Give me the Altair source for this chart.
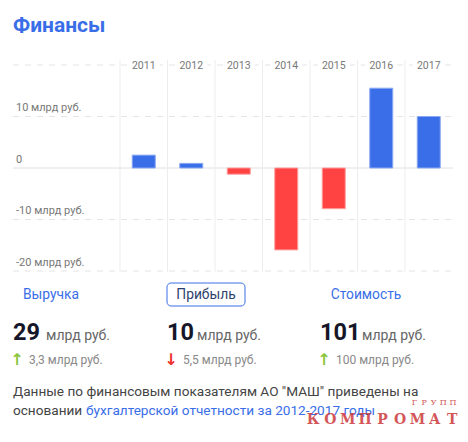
import altair as alt
import pandas as pd

# ---- data ----
years = ["2011", "2012", "2013", "2014", "2015", "2016", "2017"]
profit = [2.5, 0.9, -1.2, -15.9, -7.9, 15.5, 10.0]
grid_values = [20, 10, -10, -20]
y_label_values = [10, 0, -10, -20]
y_labels = ["10 млрд руб.", "0", "-10 млрд руб.", "-20 млрд руб."]
tabs = ["Выручка", "Прибыль", "Стоимость"]
totals = ["29", "10", "101"]
changes = ["3,3 млрд руб.", "5,5 млрд руб.", "100 млрд руб."]
directions = ["up", "down", "up"]
title_text = "Финансы"
note1 = 'Данные по финансовым показателям АО "МАШ" приведены на'
note2a = "основании"
note2b = "бухгалтерской отчетности за 2012-2017 годы"
wm_main = "КОМПРОМАТ"
wm_small = "ГРУПП"

FONT = "Roboto"
BLUE = "#3a6ee8"
RED = "#ff4242"

bars = pd.DataFrame({"year": years, "v": profit,
                     "sign": ["pos" if p >= 0 else "neg" for p in profit]})
grid = pd.DataFrame({"g": grid_values})
zero = pd.DataFrame({"g": [0]})
ylab = pd.DataFrame({"g": y_label_values, "t": y_labels})
yr = pd.DataFrame({"year": years})

xs = alt.Scale(domain=years, range=[120, 452.5], paddingInner=0, paddingOuter=0)
ys = alt.Scale(domain=[-20, 20], range=[271, 65])

gridlines = alt.Chart(grid).mark_rule(color="#e4e4e4", strokeDash=[6, 6], strokeWidth=1).encode(
    y=alt.Y("g:Q", scale=ys, axis=None), x=alt.value(13), x2=alt.value(453))
zeroline = alt.Chart(zero).mark_rule(color="#e0e0e0", strokeWidth=1).encode(
    y=alt.Y("g:Q", scale=ys, axis=None), x=alt.value(13), x2=alt.value(453))
vlines = alt.Chart(yr).mark_rule(color="#ededed", strokeWidth=1).encode(
    x=alt.X("year:N", scale=xs, axis=None, bandPosition=0), y=alt.value(60), y2=alt.value(272))
label_bg = alt.Chart(yr).mark_bar(width=32, color="white").encode(
    x=alt.X("year:N", scale=xs, axis=None), y=alt.value(59), y2=alt.value(72))
year_text = alt.Chart(yr).mark_text(font=FONT, fontSize=10.5, color="#777777", baseline="middle").encode(
    x=alt.X("year:N", scale=xs, axis=None), y=alt.value(66), text="year:N")
bar_layer = alt.Chart(bars).mark_bar(width=23, strokeWidth=1).encode(
    x=alt.X("year:N", scale=xs, axis=None),
    y=alt.Y("v:Q", scale=ys, axis=None), y2=alt.datum(0),
    fill=alt.Fill("sign:N", scale=alt.Scale(domain=["pos", "neg"], range=[BLUE, RED]), legend=None),
    stroke=alt.Stroke("sign:N", scale=alt.Scale(domain=["pos", "neg"], range=["#8aa8f2", "#ff9c9c"]), legend=None),
)
ylabel_text = alt.Chart(ylab).mark_text(font=FONT, fontSize=11, color="#777777", align="left",
                                         baseline="middle", dy=-8.5).encode(
    x=alt.value(16), y=alt.Y("g:Q", scale=ys, axis=None), text="t:N")


def txt(t, x, y, size, color, weight="normal", align="left", font=FONT, baseline="middle", opacity=1):
    return alt.Chart(pd.DataFrame({"t": [t]})).mark_text(
        font=font, fontSize=size, color=color, fontWeight=weight, align=align,
        baseline=baseline, opacity=opacity).encode(x=alt.value(x), y=alt.value(y), text="t:N")


layers = [gridlines, zeroline, vlines, label_bg, year_text, bar_layer, ylabel_text]

# title
layers.append(txt(title_text, 13, 32, 21, BLUE, weight="bold", baseline="alphabetic"))

# tab box around the selected tab
box = alt.Chart(pd.DataFrame({"t": [1]})).mark_rect(
    fill="white", stroke=BLUE, strokeWidth=1, cornerRadius=4).encode(
    x=alt.value(167), x2=alt.value(245), y=alt.value(283), y2=alt.value(306))
layers.append(box)

tab_x = [23, 206, 366]
tab_align = ["left", "center", "center"]
tab_color = [BLUE, "#2d3f6e", BLUE]
col_x = [13, 167, 320]
num_w = [33, 30, 42]
for i in range(3):
    layers.append(txt(tabs[i], tab_x[i], 295, 13.8, tab_color[i], align=tab_align[i]))
    layers.append(txt(totals[i], col_x[i], 340, 23.5, "#161629", weight="bold", baseline="alphabetic"))
    layers.append(txt("млрд руб.", col_x[i] + num_w[i], 340, 14, "#666666", baseline="alphabetic"))
    arrow = "↑" if directions[i] == "up" else "↓"
    acol = "#8cc63f" if directions[i] == "up" else "#f0302a"
    layers.append(txt(arrow, col_x[i] + 4, 360, 16, acol, weight="bold", align="center", font="DejaVu Sans"))
    layers.append(txt(changes[i], col_x[i] + 16, 360, 12, "#888888"))

layers.append(txt(note1, 13, 392, 13.6, "#444444"))
layers.append(txt(note2a, 13, 411, 13.6, "#444444"))
layers.append(txt(note2b, 86, 411, 13.6, BLUE))

# watermark, letter-spaced
for i, ch in enumerate(wm_main):
    layers.append(txt(ch, 313 + i * 17.4, 420, 14, "#cc3a3c", align="center",
                      font="DejaVu Serif", weight="bold", opacity=0.85))
for i, ch in enumerate(wm_small):
    layers.append(txt(ch, 414.5 + i * 9.6, 402.5, 8, "#cc3a3c", align="center",
                      font="DejaVu Serif", opacity=0.85))

chart = alt.layer(*layers).properties(
    width=468, height=442, autosize=alt.AutoSizeParams(type="none"), padding=0,
    background="white",
).configure_view(stroke=None)

chart.save("out.html", embed_options={"renderer": "svg", "actions": False})
